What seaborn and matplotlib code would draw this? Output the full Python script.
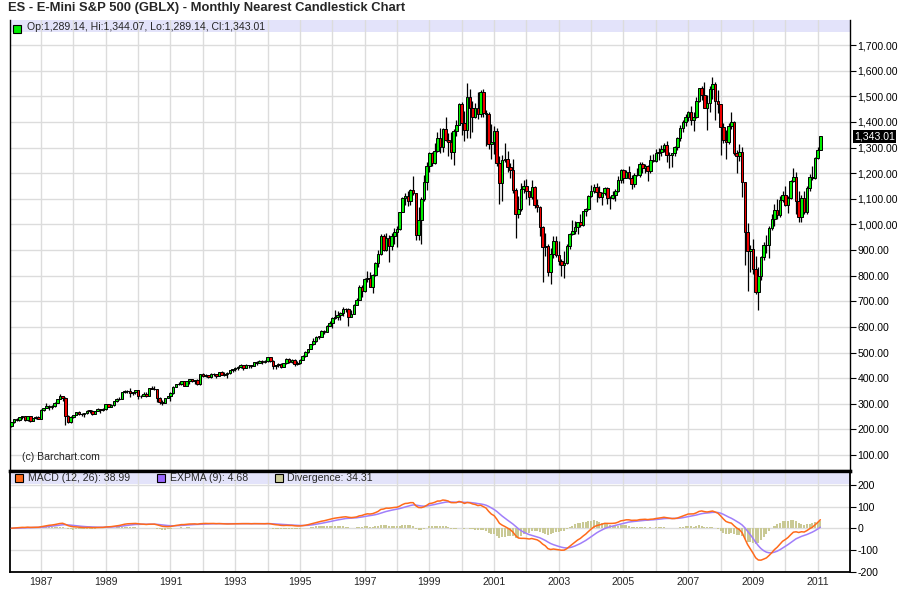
import numpy as np
import pandas as pd
import matplotlib
matplotlib.use("Agg")
import matplotlib.pyplot as plt
import matplotlib.transforms as mtransforms
import seaborn as sns

# ---------------- data (monthly, Feb 1986 .. Feb 2011) ----------------
start_year, start_month = 1986, 2
first_open = 211.78

closes = [
    # 1986 Feb-Dec
    226.92, 238.90, 235.52, 247.35, 250.84, 236.12, 252.93, 231.32, 243.98, 249.22, 242.17,
    # 1987
    274.08, 284.20, 291.70, 288.36, 290.10, 304.00, 318.66, 329.80, 321.83, 251.79, 230.30, 247.08,
    # 1988
    257.07, 267.82, 258.89, 261.33, 262.16, 273.50, 272.02, 261.52, 271.91, 278.97, 273.70, 277.72,
    # 1989
    297.47, 288.86, 294.87, 309.64, 320.52, 317.98, 346.08, 351.45, 349.15, 340.36, 345.99, 353.40,
    # 1990
    329.08, 331.89, 339.94, 330.80, 361.23, 358.02, 356.15, 322.56, 306.05, 304.00, 322.22, 330.22,
    # 1991
    343.93, 367.07, 375.22, 375.35, 389.83, 371.16, 387.81, 395.43, 387.86, 392.46, 375.22, 417.09,
    # 1992
    408.79, 412.70, 403.69, 414.95, 415.35, 408.14, 424.21, 414.03, 417.80, 418.68, 431.35, 435.71,
    # 1993
    438.78, 443.38, 451.67, 440.19, 450.19, 450.53, 448.13, 463.56, 458.93, 467.83, 461.79, 466.45,
    # 1994
    481.61, 467.14, 445.77, 450.91, 456.50, 444.27, 458.26, 475.49, 462.69, 472.35, 453.69, 459.27,
    # 1995
    470.42, 487.39, 500.71, 514.71, 533.40, 544.75, 562.06, 561.88, 584.41, 581.50, 605.37, 615.93,
    # 1996
    636.02, 640.43, 645.50, 654.17, 669.12, 670.63, 639.95, 651.99, 687.31, 705.27, 757.02, 740.74,
    # 1997
    786.16, 790.82, 757.12, 801.34, 848.28, 885.14, 954.31, 899.47, 947.28, 914.62, 955.40, 970.43,
    # 1998
    980.28, 1049.34, 1101.75, 1111.75, 1090.82, 1133.84, 1120.67, 957.28, 1017.01, 1098.67, 1163.63, 1229.23,
    # 1999
    1279.64, 1238.33, 1286.37, 1335.18, 1301.84, 1372.71, 1328.72, 1320.41, 1282.71, 1362.93, 1388.91, 1469.25,
    # 2000
    1394.46, 1366.42, 1498.58, 1452.43, 1420.60, 1454.60, 1430.83, 1517.68, 1436.51, 1429.40, 1314.95, 1320.28,
    # 2001
    1366.01, 1239.94, 1160.33, 1249.46, 1255.82, 1224.42, 1211.23, 1133.58, 1040.94, 1059.78, 1139.45, 1148.08,
    # 2002
    1130.20, 1106.73, 1147.39, 1076.92, 1067.14, 989.82, 911.62, 916.07, 815.28, 885.76, 936.31, 879.82,
    # 2003
    855.70, 841.15, 848.18, 916.92, 963.59, 974.50, 990.31, 1008.01, 995.97, 1050.71, 1058.20, 1111.92,
    # 2004
    1131.13, 1144.94, 1126.21, 1107.30, 1120.68, 1140.84, 1101.72, 1104.24, 1114.58, 1130.20, 1173.82, 1211.92,
    # 2005
    1181.27, 1203.60, 1180.59, 1156.85, 1191.50, 1191.33, 1234.18, 1220.33, 1228.81, 1207.01, 1249.48, 1248.29,
    # 2006
    1280.08, 1280.66, 1294.83, 1310.61, 1270.09, 1270.20, 1276.66, 1303.82, 1335.85, 1377.94, 1400.63, 1418.30,
    # 2007
    1438.24, 1406.82, 1420.86, 1482.37, 1530.62, 1503.35, 1455.27, 1473.99, 1526.75, 1549.38, 1481.14, 1468.36,
    # 2008
    1378.55, 1330.63, 1322.70, 1385.59, 1400.38, 1280.00, 1267.38, 1282.83, 1166.36, 968.75, 896.24, 903.25,
    # 2009
    825.88, 735.09, 797.87, 872.81, 919.14, 919.32, 987.48, 1020.62, 1057.08, 1036.19, 1095.63, 1115.10,
    # 2010
    1073.87, 1104.49, 1169.43, 1186.69, 1089.41, 1030.71, 1101.60, 1049.33, 1141.20, 1183.26, 1180.55, 1257.64,
    # 2011 Jan-Feb
    1289.14, 1343.01,
]

highs = [
    227, 240, 244, 249, 251, 253, 254, 254, 245, 251, 254,
    280, 285, 302, 296, 295, 306, 320, 338, 331, 328, 255, 253,
    258, 268, 271, 263, 263, 275, 276, 274, 273, 284, 280, 283,
    298, 301, 298, 310, 323, 328, 347, 354, 352, 360, 347, 354,
    354, 336, 344, 347, 362, 368, 369, 358, 326, 314, 324, 331,
    345, 370, 377, 385, 390, 390, 390, 396, 396, 393, 397, 418,
    421, 416, 413, 419, 420, 417, 425, 426, 422, 422, 432, 437,
    442, 448, 456, 452, 454, 452, 452, 464, 465, 471, 469, 471,
    483, 482, 470, 453, 458, 460, 460, 477, 477, 474, 475, 465,
    473, 490, 504, 515, 534, 556, 564, 565, 586, 588, 608, 622,
    638, 665, 663, 660, 679, 673, 674, 667, 690, 711, 762, 762,
    789, 818, 815, 806, 853, 900, 961, 961, 965, 960, 968, 986,
    992, 1050, 1106, 1124, 1130, 1139, 1190, 1122, 1067, 1105, 1193, 1245,
    1284, 1281, 1316, 1362, 1375, 1375, 1421, 1358, 1361, 1373, 1408, 1473,
    1478, 1444, 1553, 1528, 1481, 1475, 1518, 1525, 1530, 1448, 1438, 1390,
    1383, 1376, 1268, 1269, 1316, 1286, 1239, 1255, 1142, 1110, 1163, 1173,
    1176, 1131, 1173, 1150, 1099, 1071, 994, 966, 925, 907, 954, 955,
    935, 865, 896, 924, 965, 1016, 1015, 1011, 1040, 1054, 1063, 1114,
    1155, 1158, 1163, 1150, 1128, 1146, 1146, 1110, 1132, 1137, 1188, 1217,
    1217, 1212, 1229, 1192, 1199, 1219, 1245, 1245, 1237, 1233, 1270, 1276,
    1294, 1297, 1310, 1318, 1326, 1284, 1280, 1306, 1340, 1389, 1407, 1431,
    1441, 1461, 1438, 1498, 1534, 1541, 1556, 1503, 1539, 1576, 1555, 1523,
    1471, 1396, 1369, 1397, 1440, 1405, 1292, 1313, 1303, 1167, 1007, 918,
    944, 876, 832, 878, 930, 957, 994, 1040, 1080, 1101, 1111, 1130,
    1150, 1112, 1174, 1220, 1205, 1131, 1113, 1129, 1150, 1196, 1227, 1263,
    1303, 1344.07,
]

lows = [
    211, 224, 233, 234, 239, 233, 234, 228, 231, 240, 240,
    242, 271, 282, 276, 280, 289, 302, 318, 309, 216, 223, 224,
    243, 255, 256, 252, 249, 261, 263, 256, 260, 270, 264, 271,
    275, 287, 287, 293, 307, 315, 317, 343, 343, 326, 336, 340,
    320, 322, 331, 326, 329, 356, 352, 307, 300, 295, 302, 321,
    309, 340, 364, 372, 375, 368, 369, 378, 385, 379, 373, 374,
    404, 406, 401, 402, 409, 401, 407, 413, 407, 402, 416, 425,
    427, 431, 441, 432, 439, 440, 441, 446, 450, 458, 455, 460,
    464, 463, 436, 435, 443, 441, 443, 456, 461, 459, 449, 451,
    457, 469, 482, 498, 513, 528, 542, 553, 559, 572, 579, 602,
    597, 631, 627, 625, 641, 658, 605, 638, 650, 684, 703, 717,
    737, 776, 755, 732, 797, 832, 882, 895, 897, 855, 899, 925,
    912, 979, 1047, 1077, 1071, 1075, 1114, 940, 940, 924, 1090, 1133,
    1206, 1226, 1234, 1283, 1277, 1281, 1327, 1268, 1254, 1233, 1343, 1387,
    1350, 1325, 1339, 1339, 1361, 1414, 1412, 1420, 1420, 1306, 1294, 1255,
    1275, 1229, 1081, 1091, 1243, 1203, 1182, 1124, 945, 1026, 1054, 1124,
    1100, 1075, 1100, 1064, 1049, 953, 775, 876, 800, 768, 870, 872,
    840, 800, 789, 847, 902, 960, 962, 961, 990, 993, 1031, 1055,
    1105, 1124, 1087, 1103, 1076, 1113, 1078, 1060, 1099, 1090, 1127, 1163,
    1163, 1180, 1176, 1137, 1146, 1188, 1184, 1201, 1201, 1168, 1201, 1245,
    1245, 1253, 1268, 1283, 1245, 1219, 1225, 1265, 1290, 1327, 1360, 1385,
    1403, 1389, 1364, 1416, 1476, 1484, 1453, 1370, 1439, 1490, 1406, 1435,
    1270, 1316, 1257, 1315, 1373, 1272, 1200, 1248, 1106, 840, 741, 815,
    805, 730, 667, 783, 862, 888, 869, 979, 992, 1021, 1030, 1086,
    1071, 1045, 1100, 1165, 1040, 1011, 1011, 1040, 1040, 1132, 1173, 1179,
    1255, 1289.14,
]

header_text = "Op:1,289.14, Hi:1,344.07, Lo:1,289.14, Cl:1,343.01"
last_close_label = "1,343.01"
macd_label = "MACD (12, 26): 38.99"
signal_label = "EXPMA (9): 4.68"
div_label = "Divergence: 34.31"
title = "ES - E-Mini S&P 500 (GBLX) - Monthly Nearest Candlestick Chart"
price_ticks = list(range(100, 1800, 100))
macd_ticks = [200, 100, 0, -100, -200]
year_ticks = list(range(1987, 2012))

# ---------------- derived ----------------
c = np.array(closes, dtype=float)
h = np.array(highs, dtype=float)
l = np.array(lows, dtype=float)
o = np.concatenate([[first_open], c[:-1]])
n = len(c)
x = start_year + (start_month - 1) / 12 + np.arange(n) / 12.0

s = pd.Series(c)
ema12 = s.ewm(span=12, adjust=False).mean()
ema26 = s.ewm(span=26, adjust=False).mean()
macd = (ema12 - ema26).values
signal = pd.Series(macd).ewm(span=9, adjust=False).mean().values
div = macd - signal

# ---------------- style ----------------
sns.set_style("white")
plt.rcParams["font.family"] = ["Liberation Sans", "DejaVu Sans"]

W, H = 900, 612
fig = plt.figure(figsize=(W / 100, H / 100), dpi=100)
fig.patch.set_facecolor("white")


def rect(x0, y0, x1, y1):
    return [x0 / W, 1 - y1 / H, (x1 - x0) / W, (y1 - y0) / H]


def ftext(px, py, s, **kw):
    fig.text(px / W, 1 - py / H, s, **kw)


FS = 7.6
GRID = "#DCDCDC"
STRIP = "#E3E3FA"
XL = (1986.04, 2012.0)

ax = fig.add_axes(rect(10, 20, 850, 471))
ax2 = fig.add_axes(rect(10, 471, 850, 571.6))

# ---- main candlestick panel ----
ax.set_xlim(*XL)
ax.set_ylim(37.6, 1797.6)
ax.axhspan(1749.6, 1800, color=STRIP, zorder=0.2, lw=0)
ax.set_axisbelow(True)
ax.grid(True, color=GRID, lw=1.0)
ax.set_xticks(year_ticks)
ax.set_xticklabels([])
ax.tick_params(axis="x", length=0)
ax.yaxis.tick_right()
ax.set_yticks(price_ticks)
ax.set_yticklabels([f"{v:,.2f}" for v in price_ticks], fontsize=FS)
ax.tick_params(axis="y", direction="out", length=4, width=0.8, pad=1.5, colors="black")

up = c >= o
body_col = np.where(up, "#00EE00", "#EE0000")
body_bot = np.minimum(o, c)
body_h = np.maximum(np.abs(c - o), 2.0)
ax.vlines(x, l, h, color="black", lw=0.9, zorder=2)
ax.bar(x, body_h, width=0.95 / 12, bottom=body_bot, color=body_col,
       edgecolor="black", linewidth=0.7, zorder=3)

for side in ["left", "right"]:
    ax.spines[side].set_color("black")
    ax.spines[side].set_linewidth(1.0)
ax.spines["top"].set_visible(False)
ax.spines["bottom"].set_color("black")
ax.spines["bottom"].set_linewidth(2.4)

blend = mtransforms.blended_transform_factory(ax.transAxes, ax.transData)
ax.text(1.0045, c[-1], last_close_label, transform=blend, color="white",
        fontsize=FS, va="center", ha="left",
        bbox=dict(facecolor="black", edgecolor="none", pad=0.9), zorder=10)

# header of main panel
ax.plot([7 / 840], [1762], marker="s", ms=5.5, mfc="#00EE00", mec="black", mew=0.8,
        transform=blend, clip_on=False, zorder=5)
ftext(27, 26.5, header_text, fontsize=FS, va="center", ha="left")
ftext(22, 457, "(c) Barchart.com", fontsize=FS, va="center", ha="left")

# ---- MACD panel ----
ax2.set_xlim(*XL)
ax2.set_ylim(-200, 264)
ax2.axhspan(204, 270, color=STRIP, zorder=0.2, lw=0)
ax2.set_axisbelow(True)
ax2.grid(True, color=GRID, lw=1.0)
ax2.set_xticks(year_ticks)
ax2.set_xticklabels([str(y) if y % 2 == 1 else "" for y in year_ticks], fontsize=FS)
ax2.tick_params(axis="x", length=0, pad=4)
ax2.yaxis.tick_right()
ax2.set_yticks(macd_ticks)
ax2.set_yticklabels([str(v) for v in macd_ticks], fontsize=FS)
ax2.tick_params(axis="y", direction="out", length=4, width=0.8, pad=1.5, colors="black")

ax2.bar(x, div, width=0.75 / 12, color="#C9C995", linewidth=0, zorder=2)
sns.lineplot(x=x, y=signal, ax=ax2, color="#A07EFA", lw=1.1, estimator=None, zorder=3)
sns.lineplot(x=x, y=macd, ax=ax2, color="#FF6A1A", lw=1.1, estimator=None, zorder=4)
ax2.set_xlabel("")
ax2.set_ylabel("")

for side in ["left", "right", "bottom"]:
    ax2.spines[side].set_color("black")
    ax2.spines[side].set_linewidth(1.3)
ax2.spines["top"].set_color("black")
ax2.spines["top"].set_linewidth(2.4)

blend2 = mtransforms.blended_transform_factory(ax2.transAxes, ax2.transData)
for px, col in [(19, "#FF6A1A"), (161, "#9966FF"), (279, "#CCCC99")]:
    ax2.plot([(px - 10) / 840], [234], marker="s", ms=5.5, mfc=col, mec="black", mew=0.8,
             transform=blend2, clip_on=False, zorder=5)
ftext(27.5, 478, macd_label, fontsize=FS, va="center", ha="left")
ftext(169.5, 478, signal_label, fontsize=FS, va="center", ha="left")
ftext(287, 478, div_label, fontsize=FS, va="center", ha="left")

ftext(8, 8.5, title, fontsize=9.4, fontweight="bold", va="center", ha="left")

fig.savefig("out.png", dpi=100)
